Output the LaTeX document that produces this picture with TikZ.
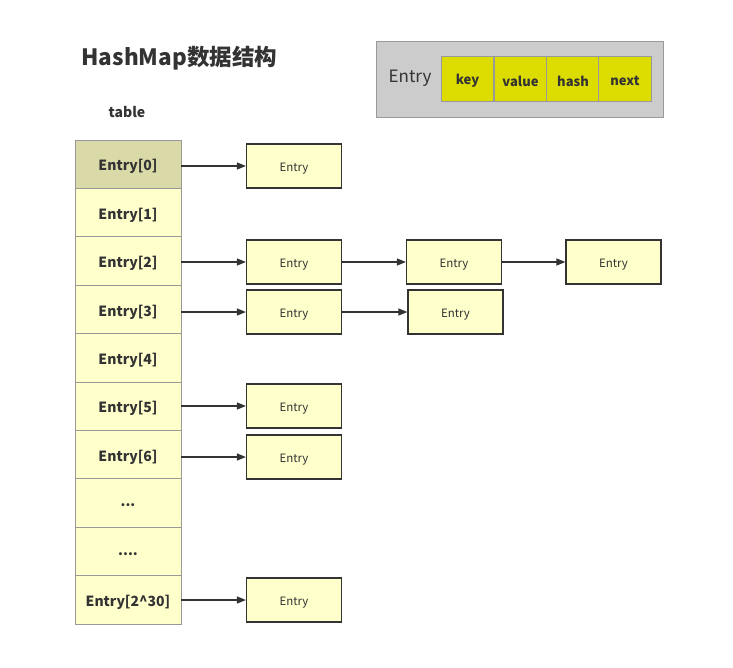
\documentclass[tikz,border=0pt]{standalone}
\usepackage{fontspec}
\setmainfont{Noto Sans CJK SC}
\usetikzlibrary{arrows.meta}
\definecolor{txt}{HTML}{333333}
\definecolor{cellfill}{HTML}{FFFFCC}
\definecolor{headfill}{HTML}{DADAA8}
\definecolor{cellline}{HTML}{999999}
\definecolor{legendfill}{HTML}{CCCCCC}
\definecolor{fieldfill}{HTML}{DCDC00}
\newcommand\dn[1]{\raisebox{-2.5pt}[\height][\depth]{#1}}
\begin{document}
\begin{tikzpicture}[x=1pt,y=-1pt,
  tcell/.style={draw=cellline,fill=cellfill,line width=0.8pt,minimum width=106pt,minimum height=48.4pt,inner sep=0pt,font=\fontsize{14}{16}\selectfont\bfseries,text=txt},
  ebox/.style={draw=txt,fill=cellfill,line width=1.2pt,minimum width=95pt,minimum height=44pt,inner sep=0pt,font=\fontsize{11.5}{13}\selectfont,text=txt},
  field/.style={draw=cellline,fill=fieldfill,line width=0.8pt,minimum width=52.5pt,minimum height=45pt,inner sep=0pt,font=\fontsize{13}{15}\selectfont\bfseries,text=txt},
  link/.style={draw=txt,line width=1.2pt,-{Triangle[length=9pt,width=7pt]}}]
\useasboundingbox (0,0) rectangle (733,667);
% title
\node[anchor=west,font=\fontsize{22.5}{26}\selectfont\bfseries,text=txt] (title) at (78,58) {HashMap数据结构};
\node[font=\fontsize{14}{16}\selectfont\bfseries,text=txt] (tlabel) at (127,112) {table};
% legend
\node[draw=cellline,fill=legendfill,line width=1pt,minimum width=287pt,minimum height=76pt,inner sep=0pt] (legend) at (519.5,79) {};
\node[font=\fontsize{17}{20}\selectfont,text=txt] (lentry) at (410,78) {Entry};
\node[field] (fkey) at (467.5,78.5) {\dn{key}};
\node[field] (fval) at (520.5,78.5) {\dn{value}};
\node[field] (fhash) at (573,78.5) {\dn{hash}};
\node[field] (fnext) at (625,78.5) {\dn{next}};
% table
\node[tcell,fill=headfill] (t0) at (128,164.2) {\dn{Entry[0]}};
\node[tcell] (t1) at (128,212.6) {\dn{Entry[1]}};
\node[tcell] (t2) at (128,261.0) {\dn{Entry[2]}};
\node[tcell] (t3) at (128,309.4) {\dn{Entry[3]}};
\node[tcell] (t4) at (128,357.8) {\dn{Entry[4]}};
\node[tcell] (t5) at (128,406.2) {\dn{Entry[5]}};
\node[tcell] (t6) at (128,454.6) {\dn{Entry[6]}};
\node[tcell] (t7) at (128,503.0) {\dn{...}};
\node[tcell] (t8) at (128,551.4) {\dn{....}};
\node[tcell] (t9) at (128,599.8) {\dn{Entry[2\^{}30]}};
% entries
\node[ebox] (e0) at (294,166) {\dn{Entry}};
\node[ebox] (e2a) at (294,262) {\dn{Entry}};
\node[ebox] (e2b) at (454,262) {\dn{Entry}};
\node[ebox] (e2c) at (613.5,262) {\dn{Entry}};
\node[ebox] (e3a) at (294,312) {\dn{Entry}};
\node[ebox] (e3b) at (455.5,312) {\dn{Entry}};
\node[ebox] (e5) at (294,406) {\dn{Entry}};
\node[ebox] (e6) at (294,457) {\dn{Entry}};
\node[ebox] (e9) at (294,600) {\dn{Entry}};
% links
\draw[link] (t0.east |- e0) -- (e0.west);
\draw[link] (t2.east |- e2a) -- (e2a.west);
\draw[link] (e2a) -- (e2b);
\draw[link] (e2b) -- (e2c);
\draw[link] (t3.east |- e3a) -- (e3a.west);
\draw[link] (e3a) -- (e3b);
\draw[link] (t5.east |- e5) -- (e5.west);
\draw[link] (t6.east |- e6) -- (e6.west);
\draw[link] (t9.east |- e9) -- (e9.west);
\end{tikzpicture}
\end{document}
